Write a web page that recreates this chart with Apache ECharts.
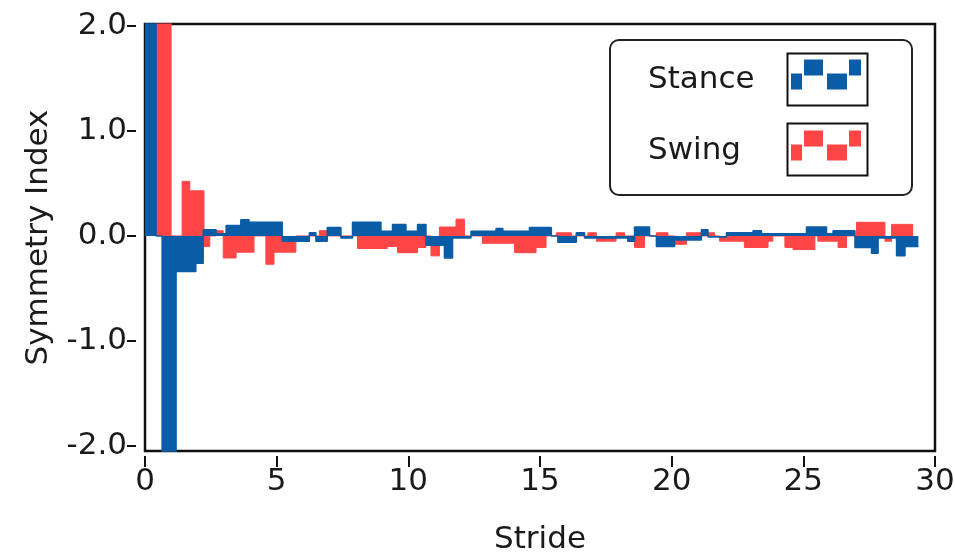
<!DOCTYPE html>
<html>
<head>
<meta charset="utf-8">
<script src="https://cdn.jsdelivr.net/npm/echarts@6/dist/echarts.min.js"></script>
<style>
html,body{margin:0;padding:0;background:#fff;}
#chart{width:955px;height:553px;}
</style>
</head>
<body>
<div id="chart"></div>
<script>
// Stance (blue) steps: start stride position and value held until next start
const stanceX = [0.00,0.42,0.65,1.18,1.93,2.21,2.70,3.08,3.64,3.95,5.21,6.24,6.49,6.92,7.44,7.88,8.96,9.40,9.91,10.35,10.67,11.37,11.68,12.38,13.33,13.59,14.41,14.60,15.43,15.68,16.38,16.69,18.33,18.59,19.16,19.42,20.11,21.13,21.38,22.08,23.09,23.41,25.12,25.88,26.13,26.96,27.59,27.84,28.54,28.86,29.37];
const stanceVal = [2.6,0,-2.6,-0.34,-0.26,0.06,0.02,0.10,0.155,0.13,-0.05,0.03,-0.05,0.08,-0.02,0.13,0.045,0.11,0.045,0.11,-0.09,-0.21,-0.02,0.045,0.07,0.045,0.045,0.08,0,-0.06,0.03,-0.02,-0.05,0.085,0,-0.1,-0.04,0.06,-0.01,0.03,0.05,0.02,0.085,0.02,0.05,-0.11,-0.165,-0.02,-0.19,-0.1,-0.1];
// Swing (red) steps
const swingX = [0.42,0.99,1.41,1.70,2.24,2.46,2.70,2.97,3.46,4.14,4.59,4.90,5.73,6.62,6.92,8.07,9.20,9.59,10.35,10.67,10.86,11.18,11.81,12.13,12.81,14.03,14.85,15.23,15.62,16.19,16.82,17.14,17.89,18.21,18.59,18.97,19.42,19.86,20.11,20.56,21.13,21.38,21.63,21.82,22.76,23.66,23.84,24.30,24.61,25.44,25.55,26.32,26.64,27.02,28.10,28.35,29.17];
const swingVal = [2.6,0,0.52,0.43,-0.1,0,0.05,-0.21,-0.155,0,-0.27,-0.155,0,0.05,0,-0.12,-0.10,-0.16,-0.11,0,-0.19,0.085,0.16,0,-0.07,-0.16,-0.11,0,0.03,0,0.03,-0.05,0.03,0,-0.11,0,0.03,0,-0.08,0.03,0,0.03,0,-0.05,-0.11,-0.05,0,-0.11,-0.13,0,-0.05,-0.11,0,0.13,-0.05,0.11,0.11];

const xTicks = [0,5,10,15,20,25,30];
const yTicks = [-2,-1,0,1,2];
const seriesNames = ['Stance','Swing'];

const FONT = 'DejaVu Sans';
const TXT = '#1a1a1a';
const BLUE = '#0A5CA6';
const RED = '#FF4646';

function pairs(xs, vs){ return xs.map((x,i)=>[x, vs[i]]); }

const chart = echarts.init(document.getElementById('chart'), null, {renderer:'canvas'});
chart.setOption({
  animation:false,
  backgroundColor:'#fff',
  grid:{left:145, top:24, right:20, bottom:102, outerBoundsMode:'none', containLabel:false,
    show:true, borderColor:'#111', borderWidth:2.5, backgroundColor:'#fff'},
  xAxis:{
    type:'value', min:0, max:30, interval:5, offset:5, z:10,
    name:'Stride', nameLocation:'middle', nameGap:68,
    nameTextStyle:{fontFamily:FONT, fontSize:31, color:TXT},
    axisLine:{show:true, onZero:false, lineStyle:{color:'rgba(0,0,0,0)', width:1}},
    axisTick:{show:true, length:11, lineStyle:{color:'#111', width:2}, customValues:xTicks},
    axisLabel:{fontFamily:FONT, fontSize:31, color:TXT, margin:10, customValues:xTicks},
    splitLine:{show:false}
  },
  yAxis:{
    type:'value', min:-2.05, max:2.02, offset:9, z:10,
    name:'Symmetry Index', nameLocation:'middle', nameGap:82, nameRotate:90,
    nameTextStyle:{fontFamily:FONT, fontSize:31, color:TXT},
    axisLine:{show:true, onZero:false, lineStyle:{color:'rgba(0,0,0,0)', width:1}},
    axisTick:{show:true, length:9, lineStyle:{color:'#111', width:2}, customValues:yTicks},
    axisLabel:{fontFamily:FONT, fontSize:31, color:TXT, margin:9, customValues:yTicks,
      formatter:(v)=>v.toFixed(1)},
    splitLine:{show:false}
  },
  legend:{
    orient:'vertical', left:610, top:40, padding:[14,51,29,38], itemGap:30,
    itemWidth:70, itemHeight:30, align:'right',
    icon:'path://M0,14H11V30H0Z M13,0H32V16H13Z M36,14H56V30H36Z M58,0H70V16H58Z',
    itemStyle:{borderWidth:0},
    borderColor:'#222', borderWidth:2, borderRadius:9, backgroundColor:'#fff',
    data:seriesNames,
    formatter:'{a|{name}}',
    textStyle:{rich:{a:{width:138, align:'left', fontFamily:FONT, fontSize:31, color:TXT, lineHeight:30, padding:[10,0,0,0]}}}
  },
  graphic:[
    {type:'rect', left:785, top:51, shape:{width:80, height:52}, style:{fill:null, stroke:'#111', lineWidth:2}, z:100},
    {type:'rect', left:785, top:121, shape:{width:80, height:52}, style:{fill:null, stroke:'#111', lineWidth:2}, z:100}
  ],
  series:[
    {name:'Swing', type:'line', step:'end', data:pairs(swingX, swingVal), showSymbol:false, symbol:'none',
      color:RED, lineStyle:{width:1, color:RED}, areaStyle:{color:RED, opacity:1}, z:2},
    {name:'Stance', type:'line', step:'end', data:pairs(stanceX, stanceVal), showSymbol:false, symbol:'none',
      color:BLUE, lineStyle:{width:1.5, color:BLUE}, areaStyle:{color:BLUE, opacity:1}, z:3}
  ]
});
</script>
</body>
</html>
